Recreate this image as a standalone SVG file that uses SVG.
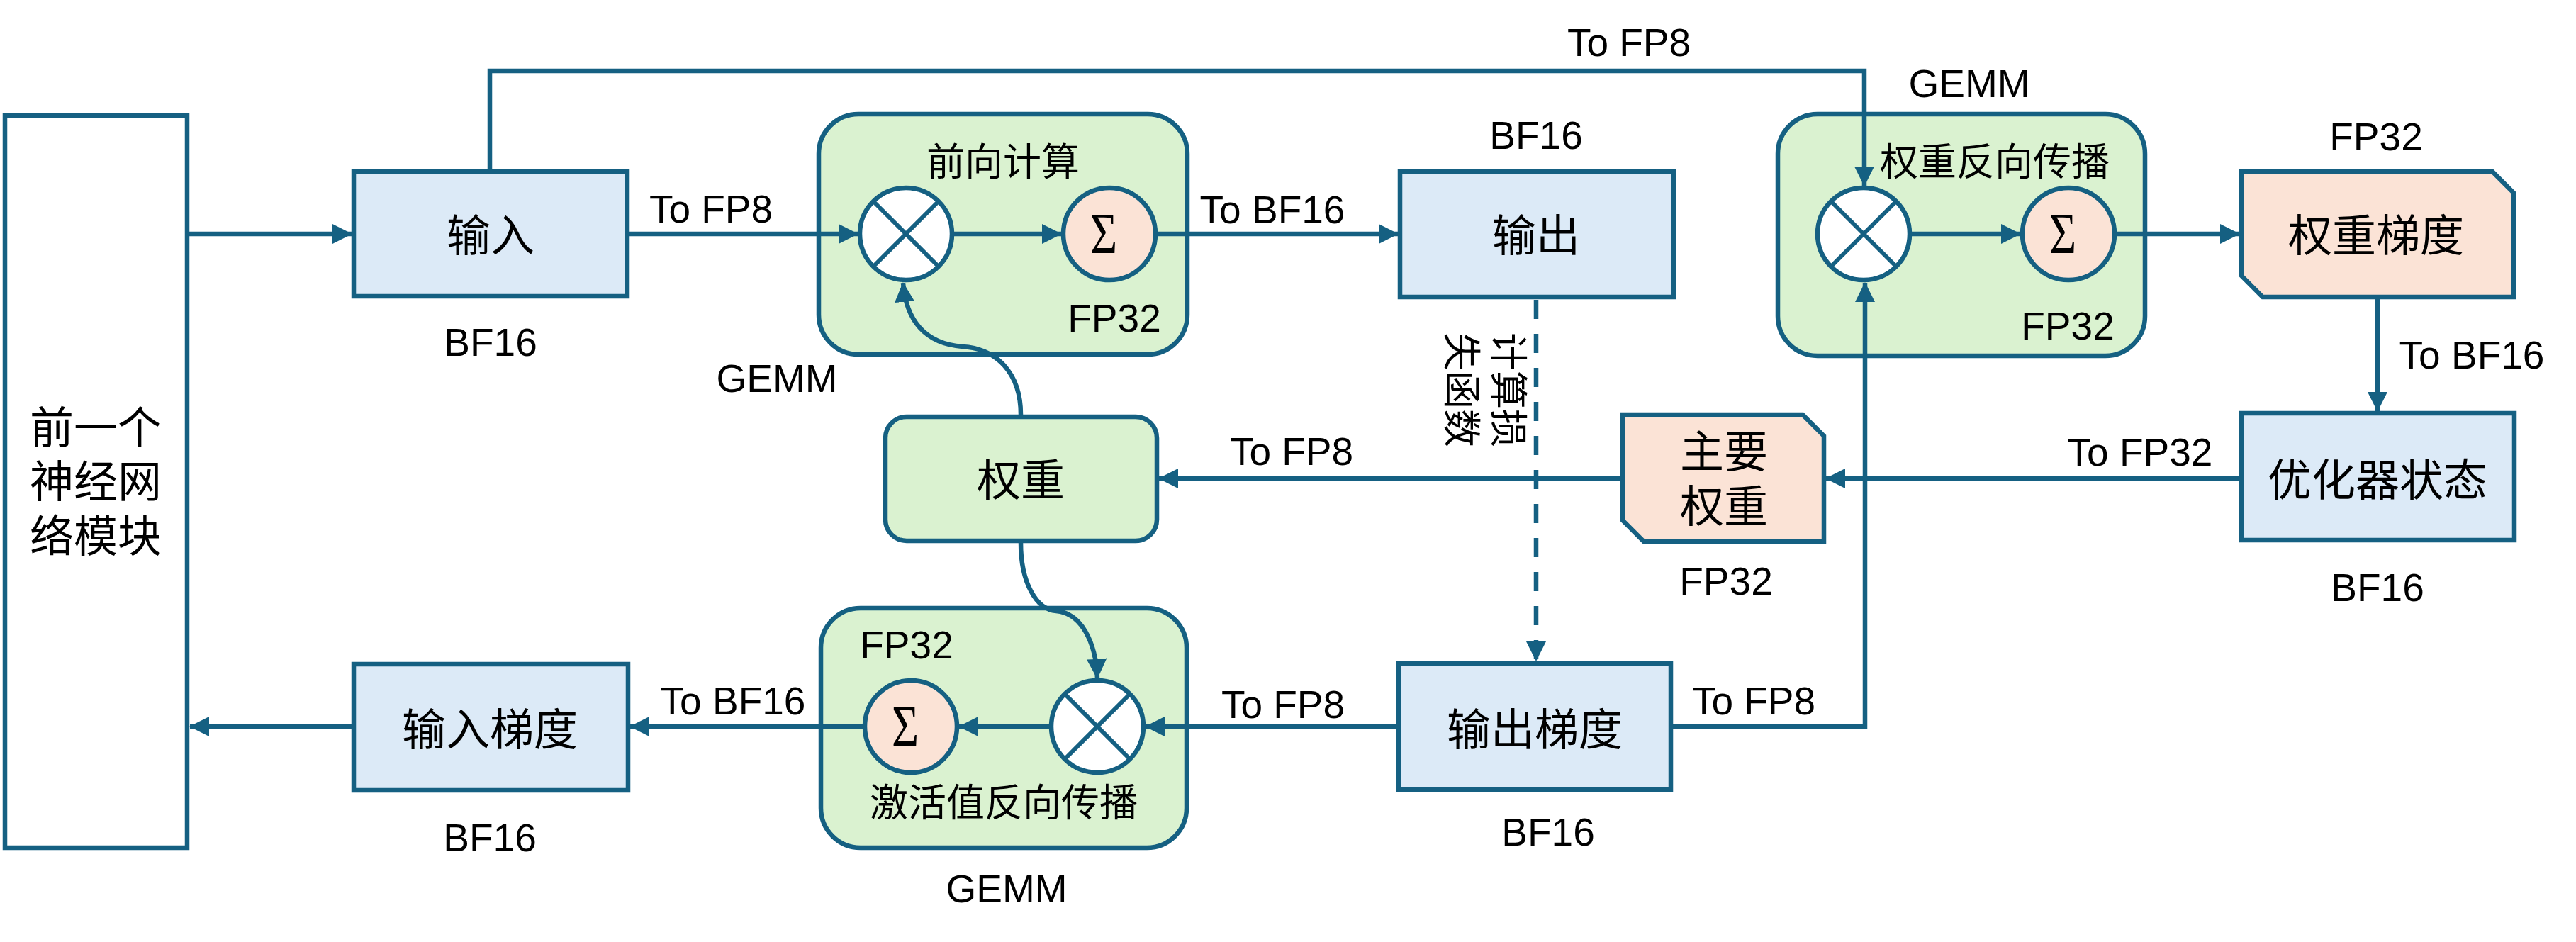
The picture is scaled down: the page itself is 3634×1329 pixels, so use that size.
<svg xmlns="http://www.w3.org/2000/svg" width="3634" height="1329" viewBox="0 0 3634 1329">
<style>
.box{stroke:#156082;stroke-width:6.5;}
.blue{fill:#DCEAF7;}
.green{fill:#DAF2D0;}
.peach{fill:#FBE3D6;}
.white{fill:#FFFFFF;}
.circ{stroke:#156082;stroke-width:6.5;}
.xl{stroke:#156082;stroke-width:6;fill:none;}
.con{stroke:#156082;stroke-width:6.5;fill:none;}
.dash{stroke-dasharray:27 21;}
text{font-family:"Liberation Sans","Noto Sans CJK SC",sans-serif;fill:#000;}
.lbl{font-size:55px;text-anchor:middle;}
.node{font-size:62px;text-anchor:middle;}
.ttl{font-size:54px;text-anchor:middle;}
.sig{font-family:"Liberation Serif",serif;font-size:82px;text-anchor:middle;}
</style>
<defs>
<marker id="ah" viewBox="0 0 28 28" refX="27" refY="14" markerWidth="28" markerHeight="28" markerUnits="userSpaceOnUse" orient="auto">
<path d="M0,0 L28,14 L0,28 Z" fill="#156082"/>
</marker>
</defs>
<rect width="3634" height="1329" fill="#FFFFFF"/>

<g id="prev-block">
<rect class="box white" x="7" y="163" width="257" height="1033"/>
<text class="node" x="135" y="626">前一个</text>
<text class="node" x="135" y="702">神经网</text>
<text class="node" x="135" y="779">络模块</text>
</g>

<g id="input">
<rect class="box blue" x="499" y="242" width="386" height="176"/>
<text class="node" x="692" y="355">输入</text>
<text class="lbl" x="692" y="502">BF16</text>
</g>

<g id="forward-gemm">
<rect class="box green" x="1155" y="161" width="520" height="339" rx="56"/>
<text class="ttl" x="1415" y="248">前向计算</text>
<circle class="circ white" cx="1278" cy="330" r="65"/>
<path class="xl" d="M1232,284 L1324,376 M1324,284 L1232,376"/>
<circle class="circ peach" cx="1565" cy="330" r="65"/>
<text class="sig" transform="translate(1557,357) scale(0.8,1)">Σ</text>
<text class="lbl" x="1572" y="468">FP32</text>
<text class="lbl" x="1096" y="553">GEMM</text>
</g>

<g id="output">
<rect class="box blue" x="1975" y="242" width="386" height="177"/>
<text class="node" x="2167" y="355">输出</text>
<text class="lbl" x="2167" y="210">BF16</text>
</g>

<g id="weight-grad-gemm">
<rect class="box green" x="2508" y="161" width="518" height="341" rx="56"/>
<text class="ttl" x="2814" y="248">权重反向传播</text>
<circle class="circ white" cx="2629" cy="330" r="65"/>
<path class="xl" d="M2583,284 L2675,376 M2675,284 L2583,376"/>
<circle class="circ peach" cx="2918" cy="330" r="65"/>
<text class="sig" transform="translate(2910,357) scale(0.8,1)">Σ</text>
<text class="lbl" x="2917" y="479">FP32</text>
<text class="lbl" x="2778" y="137">GEMM</text>
</g>

<g id="weight-grad">
<path class="box peach" d="M3162,242 H3516 L3546,272 V419 H3192 L3162,389 Z"/>
<text class="node" x="3352" y="355">权重梯度</text>
<text class="lbl" x="3352" y="212">FP32</text>
</g>

<g id="optimizer">
<rect class="box blue" x="3162" y="583" width="385" height="179"/>
<text class="node" x="3354" y="700">优化器状态</text>
<text class="lbl" x="3354" y="848">BF16</text>
</g>

<g id="master-weight">
<path class="box peach" d="M2289,585 H2543 L2573,615 V764 H2319 L2289,734 Z"/>
<text class="node" x="2432" y="660">主要</text>
<text class="node" x="2432" y="737">权重</text>
<text class="lbl" x="2435" y="839">FP32</text>
</g>

<g id="weight">
<rect class="box green" x="1249" y="588" width="383" height="175" rx="30"/>
<text class="node" x="1440" y="700">权重</text>
</g>

<g id="act-grad-gemm">
<rect class="box green" x="1158" y="858" width="516" height="338" rx="56"/>
<text class="lbl" x="1279" y="929">FP32</text>
<circle class="circ peach" cx="1285" cy="1025" r="65"/>
<text class="sig" transform="translate(1277,1052) scale(0.8,1)">Σ</text>
<circle class="circ white" cx="1548" cy="1025" r="65"/>
<path class="xl" d="M1502,979 L1594,1071 M1594,979 L1502,1071"/>
<text class="ttl" x="1416" y="1152">激活值反向传播</text>
<text class="lbl" x="1420" y="1273">GEMM</text>
</g>

<g id="output-grad">
<rect class="box blue" x="1973" y="936" width="384" height="178"/>
<text class="node" x="2165" y="1052">输出梯度</text>
<text class="lbl" x="2184" y="1193">BF16</text>
</g>

<g id="input-grad">
<rect class="box blue" x="499" y="937" width="387" height="178"/>
<text class="node" x="691" y="1052">输入梯度</text>
<text class="lbl" x="691" y="1201">BF16</text>
</g>

<g id="connectors">
<path class="con" marker-end="url(#ah)" d="M267,330 H496"/>
<path class="con" marker-end="url(#ah)" d="M888,330 H1210"/>
<path class="con" marker-end="url(#ah)" d="M1346,330 H1497"/>
<path class="con" marker-end="url(#ah)" d="M1634,330 H1972"/>
<path class="con" marker-end="url(#ah)" d="M691,239 V100 H2630 V262"/>
<path class="con" marker-end="url(#ah)" d="M2697,330 H2850"/>
<path class="con" marker-end="url(#ah)" d="M2986,330 H3159"/>
<path class="con" marker-end="url(#ah)" d="M3354,422 V580"/>
<path class="con" marker-end="url(#ah)" d="M3159,675 H2576"/>
<path class="con" marker-end="url(#ah)" d="M2286,675 H1635"/>
<path class="con" marker-end="url(#ah)" d="M1440,585 C1440,525 1405,492 1358,489 C1305,485 1278,452 1274,399"/>
<path class="con" marker-end="url(#ah)" d="M1440,766 C1440,822 1462,860 1490,862 C1525,865 1546,905 1548,957"/>
<path class="con dash" marker-end="url(#ah)" d="M2167,423 V932"/>
<path class="con" marker-end="url(#ah)" d="M1970,1025 H1616"/>
<path class="con" marker-end="url(#ah)" d="M1480,1025 H1353"/>
<path class="con" marker-end="url(#ah)" d="M1217,1025 H889"/>
<path class="con" marker-end="url(#ah)" d="M496,1025 H268"/>
<path class="con" marker-end="url(#ah)" d="M2360,1025 H2631 V399"/>
<text class="lbl" x="2298" y="79">To FP8</text>
<text class="lbl" x="1003" y="314">To FP8</text>
<text class="lbl" x="1795" y="315">To BF16</text>
<text class="lbl" x="3487" y="520">To BF16</text>
<text class="lbl" x="3019" y="657">To FP32</text>
<text class="lbl" x="1822" y="656">To FP8</text>
<text class="lbl" x="1810" y="1013">To FP8</text>
<text class="lbl" x="2474" y="1008">To FP8</text>
<text class="lbl" x="1034" y="1008">To BF16</text>
<text style="font-size:54px" transform="translate(2108,469) rotate(90)">计算损</text>
<text style="font-size:54px" transform="translate(2042,469) rotate(90)">失函数</text>
</g>
</svg>
